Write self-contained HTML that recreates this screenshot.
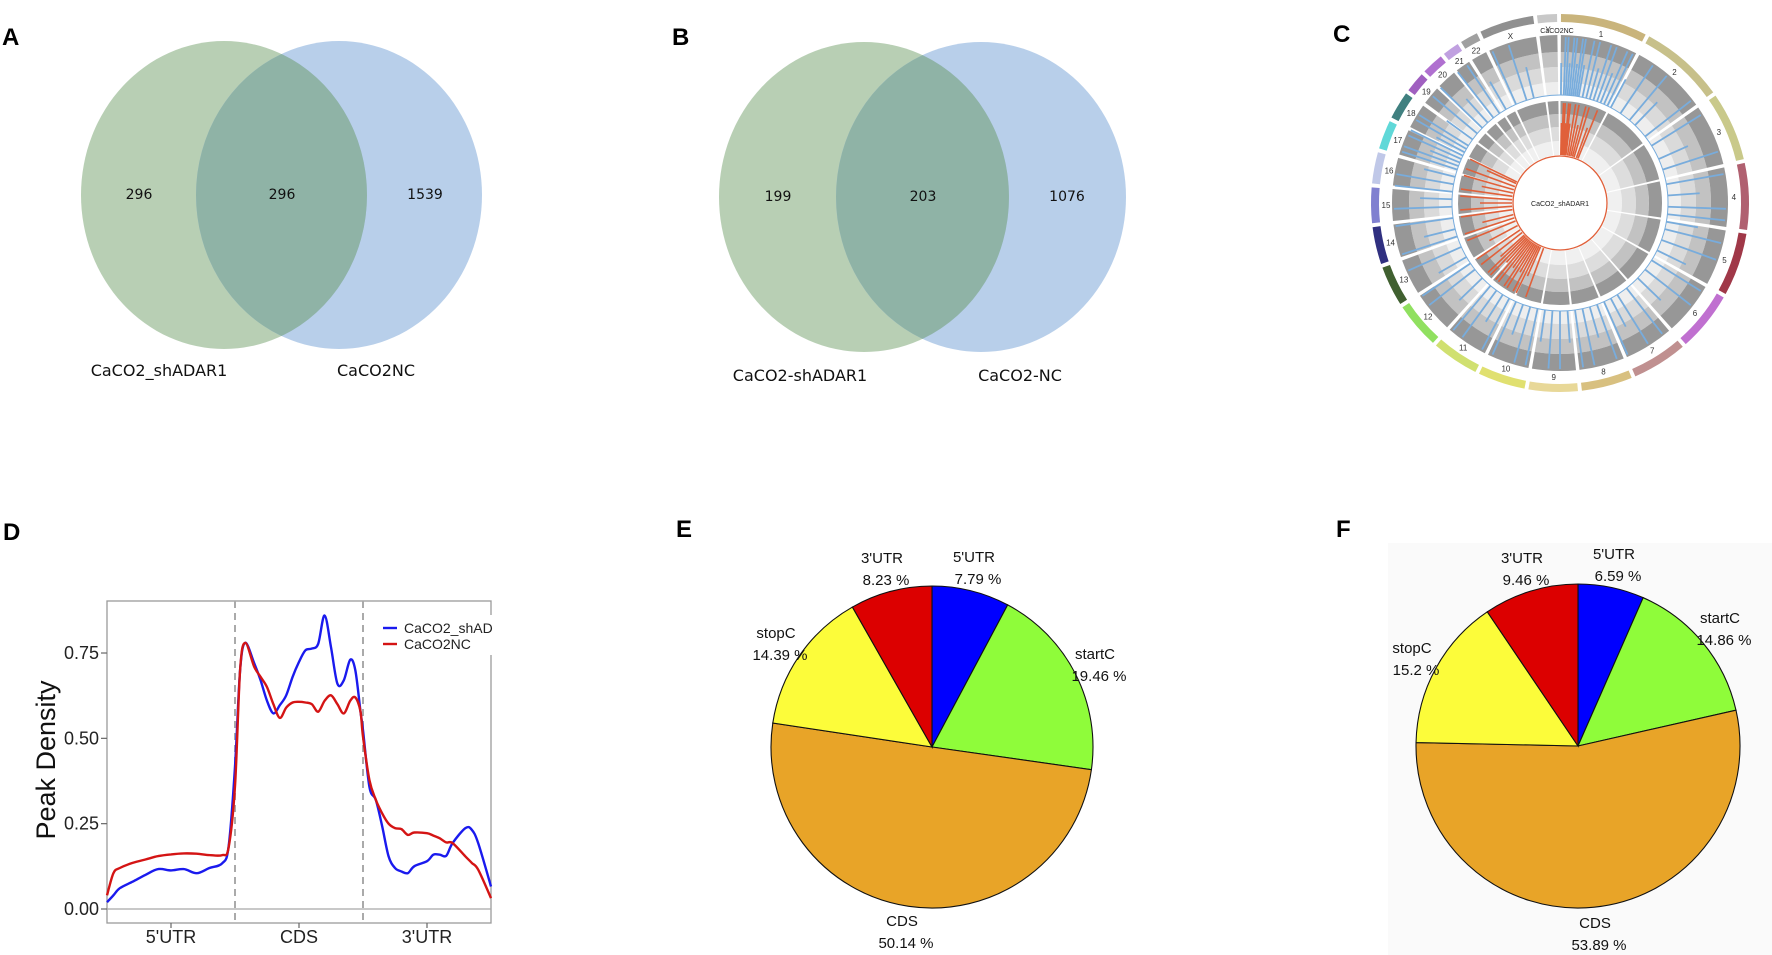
<!DOCTYPE html>
<html><head><meta charset="utf-8"><style>
html,body{margin:0;padding:0;background:#fff;}
svg{display:block;}
.lbl{font-family:"Liberation Sans",sans-serif;font-weight:bold;font-size:24px;fill:#000;}
.vn{font-family:"DejaVu Sans","Liberation Sans",sans-serif;font-size:14px;fill:#111;}
.vname{font-family:"DejaVu Sans","Liberation Sans",sans-serif;font-size:16px;fill:#111;}
.pl{font-family:"Liberation Sans",sans-serif;font-size:15px;fill:#111;}
.ax{font-family:"Liberation Sans",sans-serif;font-size:18px;fill:#222;}
</style></head><body>
<svg id="fig" width="1772" height="955" viewBox="0 0 1772 955" xmlns="http://www.w3.org/2000/svg">
<!-- Panel labels -->
<text class="lbl" x="2" y="45">A</text>
<text class="lbl" x="672" y="45">B</text>
<text class="lbl" x="1333" y="42">C</text>
<text class="lbl" x="3" y="540">D</text>
<text class="lbl" x="676" y="537">E</text>
<text class="lbl" x="1336" y="537">F</text>

<!-- Venn A -->
<g>
<ellipse cx="224" cy="195" rx="143" ry="154" fill="#9dbd97" fill-opacity="0.72"/>
<ellipse cx="339" cy="195" rx="143" ry="154" fill="#9dbde2" fill-opacity="0.72"/>
<path d="" id="ovA" fill="#8fb3a6"/>
<text class="vn" x="139" y="199" text-anchor="middle">296</text>
<text class="vn" x="282" y="199" text-anchor="middle">296</text>
<text class="vn" x="425" y="199" text-anchor="middle">1539</text>
<text class="vname" x="159" y="376" text-anchor="middle">CaCO2_shADAR1</text>
<text class="vname" x="376" y="376" text-anchor="middle">CaCO2NC</text>
</g>
<!-- Venn B -->
<g>
<ellipse cx="864" cy="197" rx="145" ry="155" fill="#9dbd97" fill-opacity="0.72"/>
<ellipse cx="981" cy="197" rx="145" ry="155" fill="#9dbde2" fill-opacity="0.72"/>
<path d="" id="ovB" fill="#8fb3a6"/>
<text class="vn" x="778" y="201" text-anchor="middle">199</text>
<text class="vn" x="923" y="201" text-anchor="middle">203</text>
<text class="vn" x="1067" y="201" text-anchor="middle">1076</text>
<text class="vname" x="800" y="381" text-anchor="middle">CaCO2-shADAR1</text>
<text class="vname" x="1020" y="381" text-anchor="middle">CaCO2-NC</text>
</g>

<g id="circos"></g>
<g id="density"></g>
<g id="pieE"></g>
<rect x="1388" y="543" width="384" height="412" fill="#fafafa"/>
<g id="pieF"></g>
</svg>
<script>
const NS="http://www.w3.org/2000/svg";
function mk(tag,attrs,parent){const e=document.createElementNS(NS,tag);for(const k in attrs)e.setAttribute(k,attrs[k]);parent.appendChild(e);return e;}

// ---------- Venn overlaps (lens shapes) ----------
function lens(cx1,cx2,cy,rx,ry){
  // intersection x at mid; y where ellipse meets
  const xm=(cx1+cx2)/2, dx=(xm-cx1)/rx; const h=ry*Math.sqrt(1-dx*dx);
  return `M${xm},${cy-h} A${rx},${ry} 0 0 1 ${xm},${cy+h} A${rx},${ry} 0 0 1 ${xm},${cy-h}Z`;
}
document.getElementById('ovA').setAttribute('d',lens(224,339,195,143,154));
document.getElementById('ovB').setAttribute('d',lens(864,981,197,145,155));

// ---------- Density chart data ----------
const dX=[0,0.05,0.1,0.2,0.3,0.4,0.5,0.6,0.7,0.8,0.9,0.95,1.0,1.04,1.08,1.15,1.2,1.25,1.3,1.35,1.4,1.45,1.5,1.55,1.6,1.65,1.7,1.75,1.8,1.85,1.9,1.94,1.98,2.0,2.05,2.1,2.15,2.2,2.25,2.3,2.35,2.4,2.5,2.55,2.6,2.65,2.7,2.8,2.85,2.9,3.0];
const blueVals=[0.02,0.04,0.061,0.08,0.10,0.117,0.113,0.117,0.105,0.12,0.134,0.183,0.417,0.70,0.78,0.72,0.67,0.61,0.573,0.597,0.626,0.68,0.724,0.758,0.763,0.777,0.86,0.767,0.66,0.67,0.73,0.70,0.58,0.524,0.358,0.32,0.242,0.154,0.12,0.11,0.105,0.125,0.14,0.159,0.159,0.156,0.193,0.237,0.232,0.193,0.066];
const redVals=[0.04,0.105,0.12,0.135,0.145,0.155,0.16,0.163,0.162,0.158,0.158,0.18,0.36,0.70,0.78,0.71,0.68,0.65,0.60,0.56,0.59,0.605,0.607,0.605,0.60,0.578,0.61,0.626,0.60,0.573,0.61,0.62,0.58,0.505,0.378,0.32,0.28,0.25,0.237,0.234,0.217,0.224,0.222,0.215,0.207,0.195,0.193,0.154,0.135,0.115,0.032];
const yTicks=[0,0.25,0.5,0.75];
const yTickLabels=["0.00","0.25","0.50","0.75"];
const xCats=["5'UTR","CDS","3'UTR"];
const legendNames=["CaCO2_shAD","CaCO2NC"];

// ---------- Pie data ----------
const pieLabels=["5'UTR","startC","CDS","stopC","3'UTR"];
const pieColors=["#0000ff","#8ffc3a","#e8a428","#fcfc3a","#dc0000"];
const pieEVals=[7.79,19.46,50.14,14.39,8.23];
const pieFVals=[6.59,14.86,53.89,15.2,9.46];

// ---------- Circos data ----------
const chrNames=["1","2","3","4","5","6","7","8","9","10","11","12","13","14","15","16","17","18","19","20","21","22","X","Y"];
const chrLens=[249,243,198,191,181,171,159,146,141,136,135,133,115,107,102,90,83,80,59,63,48,51,156,57];
const chrColors=["#c9b47c","#c7c08a","#c9c98a","#b06070","#a03848","#c070d0","#c09090","#d8c080","#e8d898","#e0e070","#d0e070","#90e060","#406030","#303080","#8080d0","#c0c8e8","#60d8d8","#408080","#a060c0","#b070d0","#c0a0e0","#a0a0a0","#909090","#c8c8c8"];
const blueAngles=[0.5,2,3,4,5,6,7,8,9,10,12,14,16,18,20,22,24,26,28,34,40,44,52,58,66,72,80,86,92,96,100,104,110,116,122,128,134,142,148,152,156,160,164,168,172,176,180,184,188,192,196,200,204,208,212,216,220,226,232,236,240,246,252,256,262,268,272,276,280,284,288,290,292,294,296,298,300,302,306,310,314,318,322,326,330,336,342,346];
const redAngles=[1,2,3,4,5,6,7,9,11,13,15,17,20,22,200,204,206,208,210,212,214,216,218,220,222,224,226,228,232,236,242,248,252,256,262,266,270,274,278,282,286,290,294,296];

// ===== Density chart =====
(function(){
  const g=document.getElementById('density');
  const L=107,R=491,T=601,B=923,y0=909,yPer=85.33/0.25;
  const sx=v=>L+v*(R-L)/3, sy=v=>y0-v*yPer;
  const box=mk('rect',{x:L,y:T,width:R-L,height:B-T,fill:'none',stroke:'#9a9a9a','stroke-width':1.3},g);
  
  const zl=mk('line',{x1:L,x2:R,y1:sy(0),y2:sy(0),stroke:'#a8a8a8','stroke-width':1.3},g);
  
  [1,2].forEach(b=>{const l=mk('line',{x1:sx(b),x2:sx(b),y1:T,y2:B,stroke:'#aaaaaa','stroke-width':2,'stroke-dasharray':'7,5'},g);
    });
  yTicks.forEach((v,i)=>{
    const t=mk('line',{x1:L-6,x2:L,y1:sy(v),y2:sy(v),stroke:'#666','stroke-width':1.2},g);
    
    const tx=mk('text',{x:L-8,y:sy(v)+6,'text-anchor':'end',class:'ax'},g);tx.textContent=yTickLabels[i];
    
  });
  xCats.forEach((c,i)=>{
    const xc=sx(i+0.5);
    const t=mk('line',{x1:xc,x2:xc,y1:B,y2:B+5,stroke:'#666','stroke-width':1.2},g);
    
    const tx=mk('text',{x:xc,y:943,'text-anchor':'middle',class:'ax','font-size':'19'},g);tx.textContent=c;
    
  });
  const yt=mk('text',{x:0,y:0,transform:'translate(55,760) rotate(-90)','text-anchor':'middle','font-family':'Liberation Sans, sans-serif','font-size':'27',fill:'#111'},g);
  yt.textContent='Peak Density';
  function path(vals){
    const p=dX.map((x,i)=>[sx(x),sy(vals[i])]);
    let d=`M${p[0][0]},${p[0][1]}`;
    for(let i=0;i<p.length-1;i++){
      const p0=p[Math.max(0,i-1)],p1=p[i],p2=p[i+1],p3=p[Math.min(p.length-1,i+2)];
      const c1=[p1[0]+(p2[0]-p0[0])/6,p1[1]+(p2[1]-p0[1])/6],c2=[p2[0]-(p3[0]-p1[0])/6,p2[1]-(p3[1]-p1[1])/6];
      d+=` C${c1[0].toFixed(1)},${c1[1].toFixed(1)} ${c2[0].toFixed(1)},${c2[1].toFixed(1)} ${p2[0].toFixed(1)},${p2[1].toFixed(1)}`;
    }
    return d;
  }
  const bl=mk('path',{d:path(blueVals),fill:'none',stroke:'#1a1aee','stroke-width':2.4},g);
  
  const rl=mk('path',{d:path(redVals),fill:'none',stroke:'#d41414','stroke-width':2.4},g);
  
  const lb=mk('rect',{x:378,y:615,width:125,height:40,fill:'#fff'},g);
  
  const lc=['#1a1aee','#d41414'];
  legendNames.forEach((n,i)=>{
    const y=628+i*16;
    const l=mk('line',{x1:383,x2:397,y1:y,y2:y,stroke:lc[i],'stroke-width':2.4},g);
    
    const t=mk('text',{x:404,y:y+5,'font-family':'Liberation Sans, sans-serif','font-size':'14',fill:'#222'},g);t.textContent=n;
    
  });
})();

// ===== Pies =====
function pie(id,cx,cy,r,vals,labelPos){
  const g=document.getElementById(id);
  const tot=vals.reduce((a,b)=>a+b,0);let a=0;
  const pt=(ang,rr)=>[cx+rr*Math.sin(ang),cy-rr*Math.cos(ang)];
  vals.forEach((v,i)=>{
    const a0=a,a1=a+v/tot*2*Math.PI;a=a1;
    const p0=pt(a0,r),p1=pt(a1,r);
    const s=mk('path',{d:`M${cx},${cy} L${p0[0]},${p0[1]} A${r},${r} 0 ${(a1-a0)>Math.PI?1:0} 1 ${p1[0]},${p1[1]}Z`,fill:pieColors[i],stroke:'#111','stroke-width':1.1},g);
    
    const lp=labelPos[i];
    const t1=mk('text',{x:lp[0],y:lp[1],'text-anchor':'middle',class:'pl'},g);t1.textContent=pieLabels[i];
    
    const t2=mk('text',{x:lp[0]+4,y:lp[1]+22,'text-anchor':'middle',class:'pl'},g);t2.textContent=v+' %';
    
  });
}
pie('pieE',932,747,161,pieEVals,[[974,562],[1095,659],[902,926],[776,638],[882,563]]);
pie('pieF',1578,746,162,pieFVals,[[1614,559],[1720,623],[1595,928],[1412,653],[1522,563]]);

// ===== Circos =====
(function(){
  const g=document.getElementById('circos');
  const cx=1560,cy=203;
  const rad=d=>d*Math.PI/180;
  const P=(a,r)=>[cx+r*Math.sin(rad(a)),cy-r*Math.cos(rad(a))];
  function sector(r1,r2,a0,a1){
    const large=(a1-a0)>180?1:0;const p1=P(a0,r2),p2=P(a1,r2),p3=P(a1,r1),p4=P(a0,r1);
    return `M${p1[0]},${p1[1]} A${r2},${r2} 0 ${large} 1 ${p2[0]},${p2[1]} L${p3[0]},${p3[1]} A${r1},${r1} 0 ${large} 0 ${p4[0]},${p4[1]}Z`;
  }
  const gap=1.2,total=chrLens.reduce((a,b)=>a+b,0),span=360-gap*chrLens.length;
  let a=0.3;const bounds=[];
  chrLens.forEach((L,i)=>{const a1=a+L/total*span;bounds.push([a,a1]);a=a1+gap;});
  const blueBands=[[108,121,'#eeeeee'],[121,136,'#dadada'],[136,151,'#c2c2c2'],[151,168,'#979797']];
  const redBands=[[48,62,'#f0f0f0'],[62,76,'#dddddd'],[76,89,'#c2c2c2'],[89,102,'#989898']];
  bounds.forEach(([a0,a1],i)=>{
    const s=mk('path',{d:sector(181,189,a0,a1),fill:chrColors[i]},g);
    
    const m=P((a0+a1)/2,174);
    const t=mk('text',{x:m[0],y:m[1]+3,'text-anchor':'middle','font-family':'Liberation Sans, sans-serif','font-size':'8',fill:'#333'},g);
    t.textContent=chrNames[i];
    blueBands.forEach(b=>{const e=mk('path',{d:sector(b[0],b[1],a0,a1),fill:b[2]},g);
      });
    redBands.forEach(b=>{const e=mk('path',{d:sector(b[0],b[1],a0,a1),fill:b[2]},g);
      });
  });
  blueAngles.forEach((an,i)=>{
    const p0=P(an,108),p1=P(an,i%3===0?140:166);
    const l=mk('line',{x1:p0[0],y1:p0[1],x2:p1[0],y2:p1[1],stroke:'#78acdc','stroke-width':1.8},g);
    
  });
  const ic=mk('circle',{cx:cx,cy:cy,r:108,fill:'none',stroke:'#78acdc','stroke-width':1},g);
  
  redAngles.forEach((an,i)=>{
    const p0=P(an,48),p1=P(an,i%3===0?80:100);
    const l=mk('line',{x1:p0[0],y1:p0[1],x2:p1[0],y2:p1[1],stroke:'#e0603a','stroke-width':1.6},g);
    
  });
  const c2=mk('circle',{cx:cx,cy:cy,r:47,fill:'#fff',stroke:'#e0603a','stroke-width':1.3},g);
  
  const t1=mk('text',{x:cx,y:cy+3,'text-anchor':'middle','font-family':'Liberation Sans, sans-serif','font-size':'7',fill:'#222'},g);
  t1.textContent='CaCO2_shADAR1';
  const t2=mk('text',{x:cx-3,y:cy-170,'text-anchor':'middle','font-family':'Liberation Sans, sans-serif','font-size':'7',fill:'#222'},g);
  t2.textContent='CaCO2NC';
})();
</script>
</body></html>
